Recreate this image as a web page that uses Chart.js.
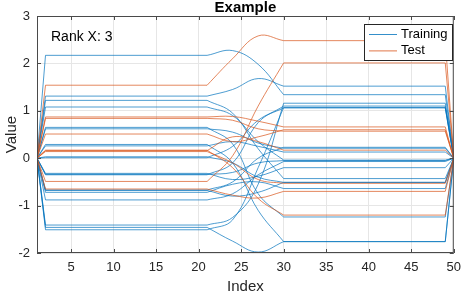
<!DOCTYPE html>
<html>
<head>
<meta charset="utf-8">
<script src="https://cdn.jsdelivr.net/npm/chart.js"></script>
<style>
  html, body { margin: 0; padding: 0; background: #fff; }
  #wrap { width: 468px; height: 294px; }
</style>
</head>
<body>
<div id="wrap"><canvas id="myChart"></canvas></div>
<script>
const xTicks = [5, 10, 15, 20, 25, 30, 35, 40, 45, 50];
const yTicks = [-2, -1, 0, 1, 2, 3];

// each row: [level from x=2 to 21, value at x=24, value at x=27, level from x=30 to 49]
// (every line starts and ends at 0, x=1 and x=50)
const trainRows = [
    [2.17, 2.27, 1.98, 1.34],
    [1.31, 1.45, 1.68, 1.52],
    [1.22, 0.95, 0.20, -0.43],
    [1.08, 0.90, 0.35, -0.04],
    [0.65, 0.30, -0.75, -1.24],
    [0.62, 0.55, 0.32, 0.21],
    [0.29, -0.10, -1.10, -1.76],
    [0.26, 0.35, 0.25, 0.13],
    [0.03, -0.10, -0.40, -0.51],
    [0.01, 0.25, 0.80, 1.06],
    [-0.32, -0.45, -0.38, -0.20],
    [-0.35, -0.10, 0.75, 1.10],
    [-0.34, -0.30, -0.10, -0.05],
    [-0.67, -0.50, 0.00, 0.23],
    [-0.68, -0.80, -0.72, -0.51],
    [-0.72, -0.55, -0.50, -0.64],
    [-0.88, -0.75, -0.35, -0.07],
    [-1.41, -1.25, -0.55, 1.16],
    [-1.46, -1.75, -1.98, -1.76],
    [-1.51, -1.30, -0.20, 1.07]
];
const testRows = [
    [1.54, 2.10, 2.58, 2.48],
    [-0.49, 0.05, 1.10, 2.01],
    [0.87, 0.88, 0.78, 0.66],
    [0.84, 0.80, 0.62, 0.57],
    [0.51, 0.35, 0.45, 0.60],
    [0.17, -0.20, -0.85, -1.20],
    [0.14, -0.10, -0.45, -0.53],
    [-0.65, -0.78, -0.84, -0.70],
    [0.16, 0.45, 0.35, 0.17]
];
const seriesNames = ['Training', 'Test'];
const colors = ['#0072BD', '#D95319'];
const FONT = "'Liberation Sans', Arial, sans-serif";

function makeSets(rows, color) {
    const sets = [];
    rows.forEach(r => {
        const [a, m1, m2, b] = r;
        // flat parts, straight
        sets.push({
            data: [{x: 1, y: 0}, {x: 2, y: a}, {x: 21, y: a}, {x: 25, y: null},
                   {x: 30, y: b}, {x: 49, y: b}, {x: 50, y: 0}],
            borderColor: color, borderWidth: 0.7, tension: 0, spanGaps: false
        });
        // the bend in the middle
        sets.push({
            data: [{x: 21, y: a}, {x: 24, y: m1}, {x: 27, y: m2}, {x: 30, y: b}],
            borderColor: color, borderWidth: 0.7, tension: 0.4
        });
    });
    return sets;
}

// test first so it is drawn on top
const datasets = makeSets(testRows, colors[1]).concat(makeSets(trainRows, colors[0]));

const boxPlugin = {
    id: 'matlabBox',
    afterDatasetsDraw(chart) {
        const ctx = chart.ctx;
        const a = chart.chartArea;
        const xs = chart.scales.x, ys = chart.scales.y;
        ctx.save();
        ctx.strokeStyle = '#4a4a4a';
        ctx.lineWidth = 1;
        ctx.strokeRect(a.left + 0.5, a.top + 0.5, a.right - a.left - 1, a.bottom - a.top - 1);
        // inner ticks
        ctx.beginPath();
        xTicks.forEach(v => {
            const px = Math.round(xs.getPixelForValue(v)) + 0.5;
            ctx.moveTo(px, a.bottom); ctx.lineTo(px, a.bottom - 4);
            ctx.moveTo(px, a.top); ctx.lineTo(px, a.top + 4);
        });
        yTicks.forEach(v => {
            const py = Math.round(ys.getPixelForValue(v)) + 0.5;
            ctx.moveTo(a.left, py); ctx.lineTo(a.left + 4, py);
            ctx.moveTo(a.right, py); ctx.lineTo(a.right - 4, py);
        });
        ctx.stroke();

        // legend
        const lx = 364, ly = 24, lw = 88, lh = 36;
        ctx.fillStyle = '#fff';
        ctx.fillRect(lx, ly, lw, lh);
        ctx.strokeStyle = '#262626';
        ctx.strokeRect(lx + 0.5, ly + 0.5, lw, lh);
        ctx.font = '13px ' + FONT;
        ctx.textBaseline = 'middle';
        seriesNames.forEach((n, i) => {
            const y = ly + 10.5 + i * 16.4;
            ctx.strokeStyle = colors[i];
            ctx.lineWidth = 0.8;
            ctx.beginPath();
            ctx.moveTo(lx + 5, y); ctx.lineTo(lx + 33, y);
            ctx.stroke();
            ctx.fillStyle = '#000';
            ctx.fillText(n, lx + 37, y);
        });

        // annotation
        ctx.font = '14px ' + FONT;
        ctx.textBaseline = 'alphabetic';
        ctx.fillStyle = '#000';
        ctx.fillText('Rank X: 3', 51, 41);
        ctx.restore();
    },
    afterDraw(chart) {
        const ctx = chart.ctx;
        const a = chart.chartArea;
        const cx = (a.left + a.right) / 2;
        ctx.save();
        ctx.fillStyle = '#000';
        ctx.textAlign = 'center';
        ctx.font = 'bold 15px ' + FONT;
        ctx.fillText('Example', cx, 12);
        ctx.fillStyle = '#262626';
        ctx.font = '15px ' + FONT;
        ctx.fillText('Index', cx, 291);
        ctx.translate(16, (a.top + a.bottom) / 2);
        ctx.rotate(-Math.PI / 2);
        ctx.fillText('Value', 0, 0);
        ctx.restore();
    }
};

new Chart(document.getElementById('myChart'), {
    type: 'line',
    data: { datasets: datasets },
    plugins: [boxPlugin],
    options: {
        responsive: true,
        maintainAspectRatio: false,
        animation: false,
        devicePixelRatio: 1,
        layout: { padding: { top: 16, right: 9, left: 0, bottom: 0 } },
        elements: { point: { radius: 0, hoverRadius: 0 } },
        plugins: { legend: { display: false }, tooltip: { enabled: false } },
        scales: {
            x: {
                type: 'linear', min: 1, max: 50,
                afterBuildTicks: s => { s.ticks = xTicks.map(v => ({ value: v })); },
                afterFit: s => { s.height = 41; },
                grid: { color: '#e6e6e6', drawTicks: false },
                border: { display: false },
                ticks: { font: { family: FONT, size: 13 }, color: '#262626', padding: 7, maxRotation: 0, autoSkip: false }
            },
            y: {
                type: 'linear', min: -2, max: 3,
                afterBuildTicks: s => { s.ticks = yTicks.map(v => ({ value: v })); },
                afterFit: s => { s.width = 37; },
                grid: { color: '#e6e6e6', drawTicks: false },
                border: { display: false },
                ticks: { font: { family: FONT, size: 13 }, color: '#262626', padding: 7, autoSkip: false }
            }
        }
    }
});
</script>
</body>
</html>
